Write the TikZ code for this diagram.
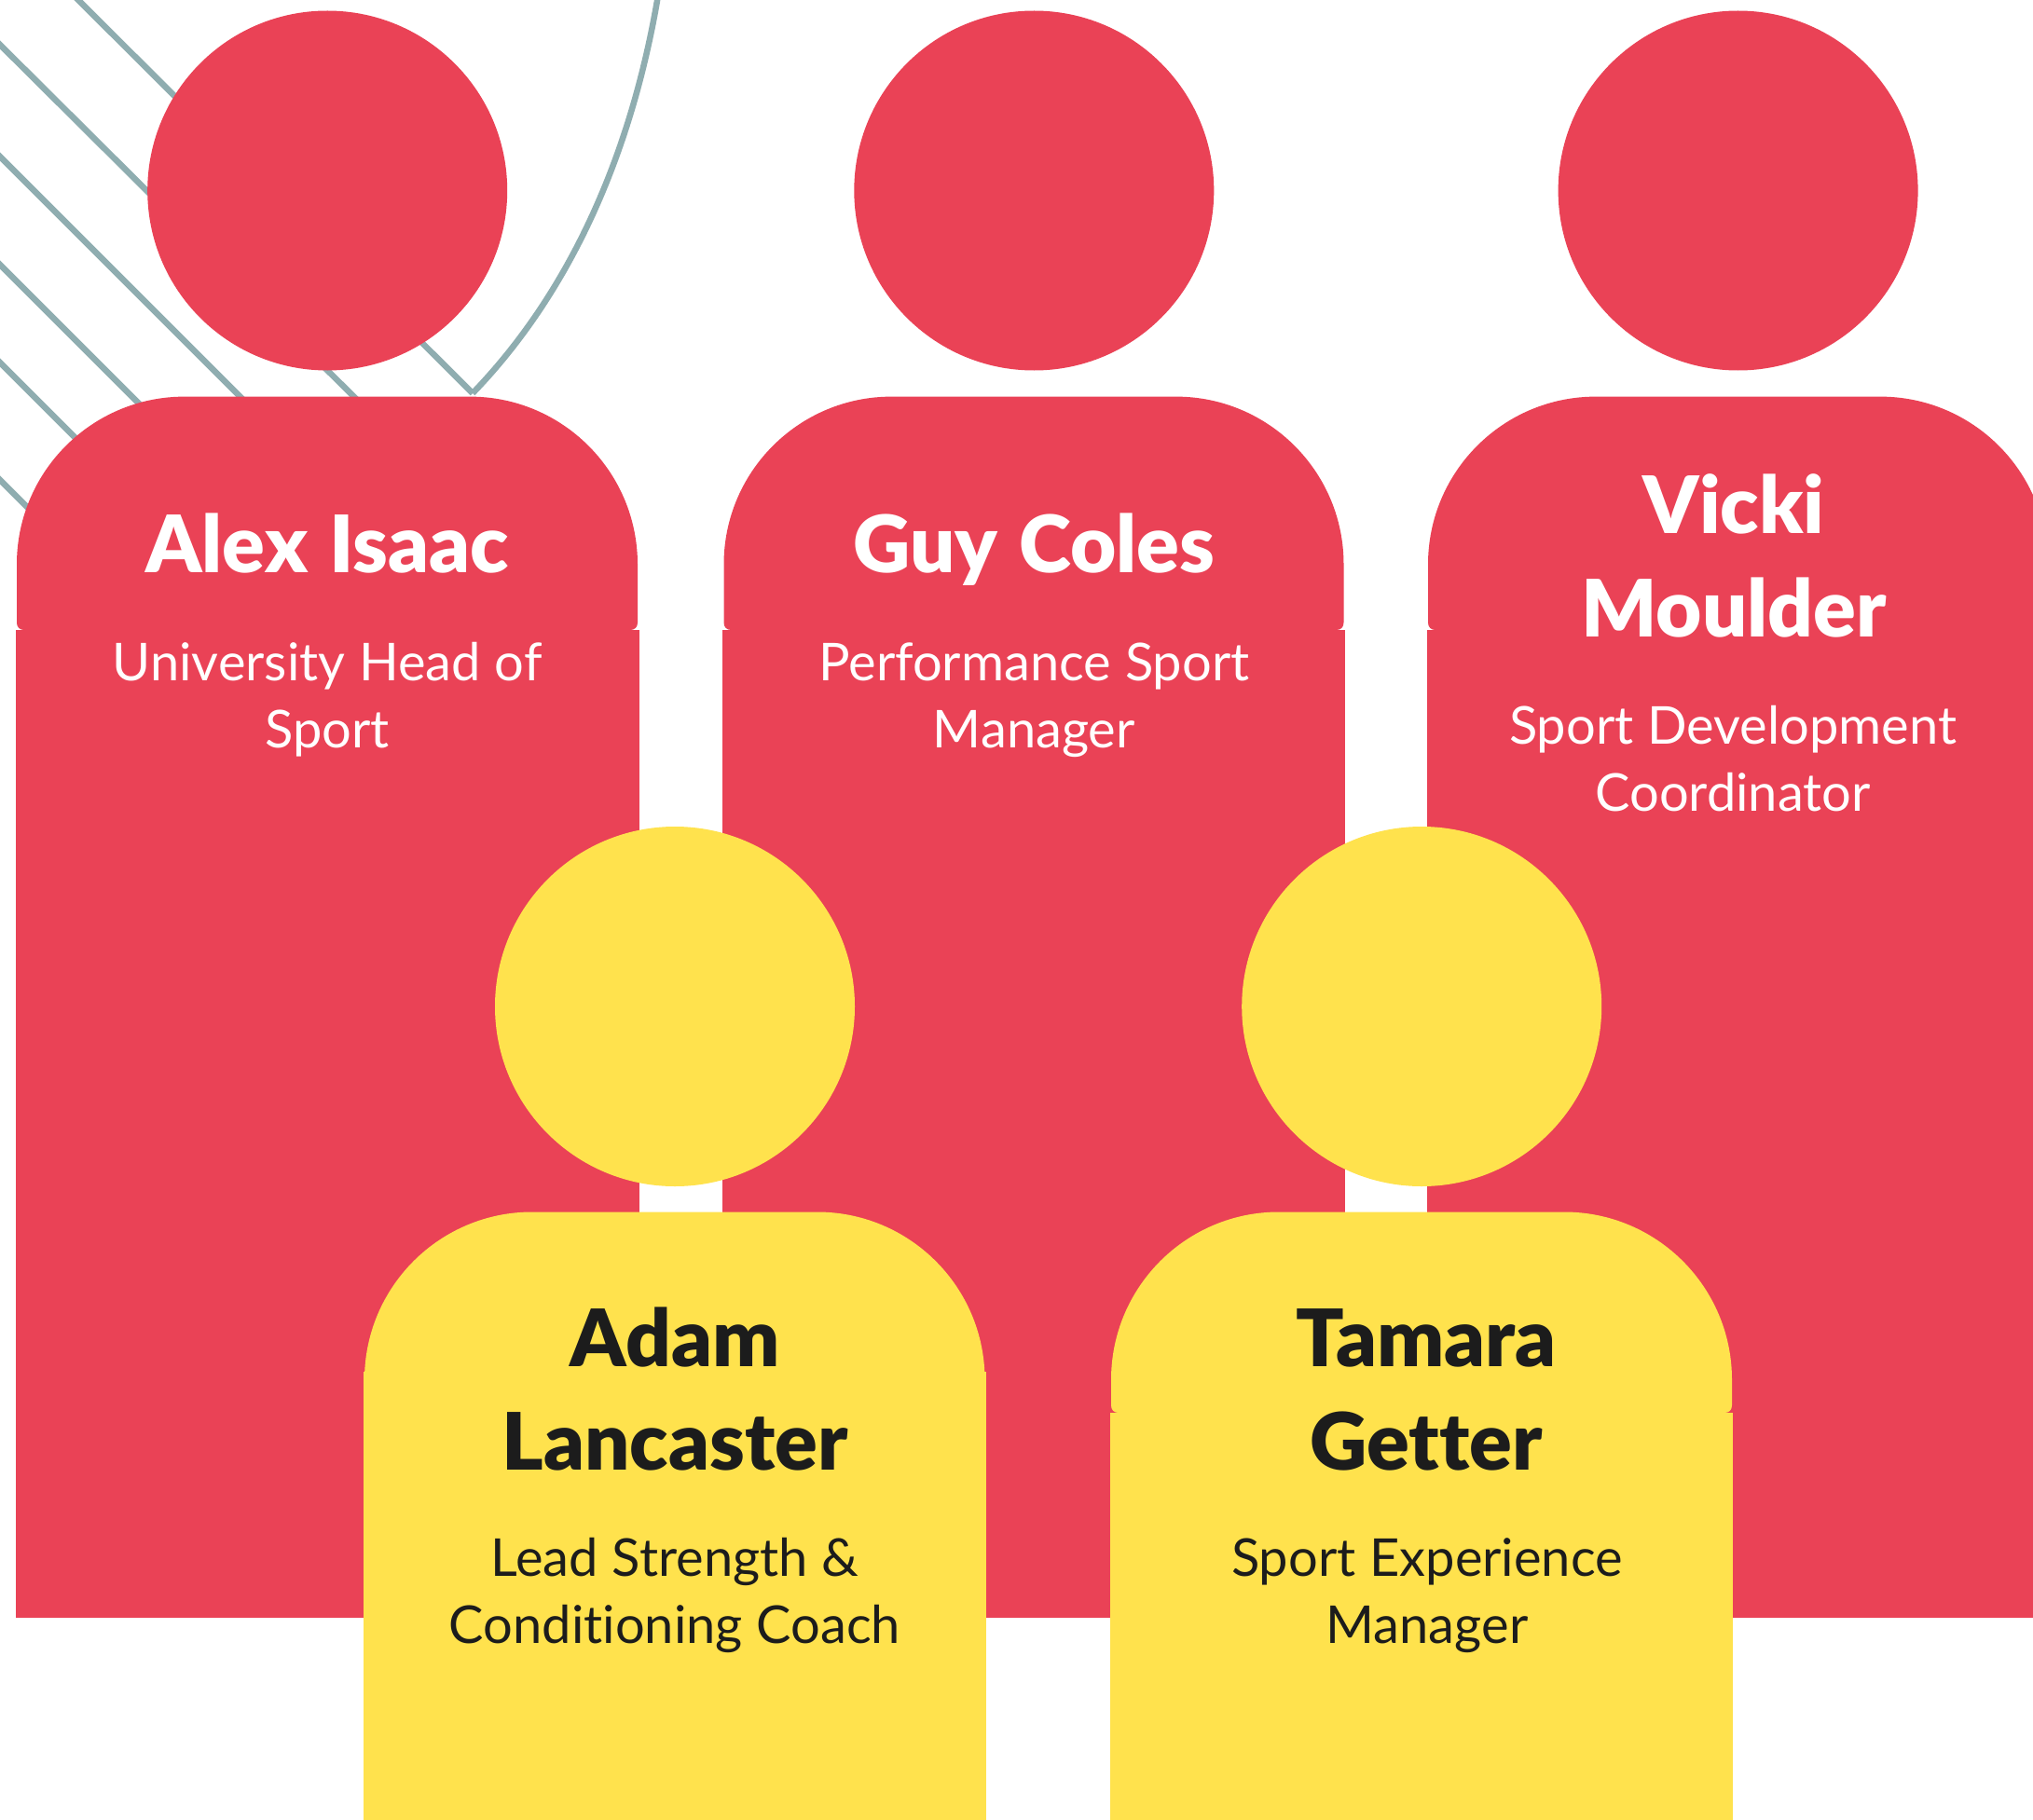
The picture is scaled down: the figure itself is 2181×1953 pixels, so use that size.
\documentclass[tikz,border=0pt]{standalone}
\usepackage{fontspec}
\setmainfont{Lato}[Ligatures=CommonOff,BoldFont={Lato Black}]
\definecolor{redc}{HTML}{EA4256}
\definecolor{yelc}{HTML}{FFE24D}
\definecolor{dark}{HTML}{1C1C1C}
\definecolor{linec}{HTML}{8FADB0}
% L R T J colour : rounded-top upper part of a body
\newcommand\bodyblock[5]{%
  \fill[#5] (#1+8,#4) .. controls (#1+3,#4) and (#1,#4-3) .. (#1,#4-8)
    -- (#1,#3+180) .. controls (#1,#3+80.6) and (#1+80.6,#3) .. (#1+180,#3)
    -- (#2-180,#3) .. controls (#2-80.6,#3) and (#2,#3+80.6) .. (#2,#3+180)
    -- (#2,#4-8) .. controls (#2,#4-3) and (#2-3,#4) .. (#2-8,#4) -- cycle;
}
\newcommand\namesp{\spaceskip 0.27em\relax}
\newcommand\rolesp{\spaceskip 0.265em\relax}
\tikzset{
  headdisc/.style={circle,minimum size=386pt,inner sep=0pt},
  bgline/.style={line width=6.5pt,draw=linec},
  personname/.style={anchor=base,inner sep=0pt,text width=640pt,align=center,font=\fontsize{85}{111}\selectfont\bfseries},
  personrole/.style={anchor=base,inner sep=0pt,text width=640pt,align=center,font=\fontsize{56}{72}\selectfont},
}
\begin{document}
\begin{tikzpicture}[x=1pt,y=-1pt]
\useasboundingbox (0,0) rectangle (2181,1953);
\clip (0,0) rectangle (2181,1953);
\fill[white] (0,0) rectangle (2181,1953);
% background lines
\draw[bgline] (81,-3) -- (507,422);
\draw[bgline] (-3,45) -- (385,431);
\draw[bgline] (-3,165) -- (270,438);
\draw[bgline] (-3,281) -- (160,444);
\draw[bgline] (-3,386) -- (100,489);
\draw[bgline] (-3,512) -- (40,555);
\draw[bgline] (507,422) .. controls (620,305) and (680,150) .. (706,-5);
% red bodies
\foreach \L/\R in {18/684,776.5/1441.5,1532/2197}{
  \bodyblock{\L}{\R}{425.6}{676}{redc}
  \fill[redc] (\L-1.5,676) rectangle (\R+1.5,1736);
}
\node[headdisc,fill=redc] (h1) at (351.2,204.5) {};
\node[headdisc,fill=redc] (h2) at (1109.3,204.5) {};
\node[headdisc,fill=redc] (h3) at (1864.6,204.5) {};
% yellow bodies
\bodyblock{391}{1056.5}{1300.5}{1482}{yelc}
\fill[yelc] (389.5,1472) rectangle (1058,1953);
\bodyblock{1192}{1858}{1300.5}{1516}{yelc}
\fill[yelc] (1190.5,1516) rectangle (1859,1953);
\node[headdisc,fill=yelc] (h4) at (724,1080) {};
\node[headdisc,fill=yelc] (h5) at (1525.2,1080) {};
% text
\node[personname,text=white] (n1) at (351.2,614) {\namesp Alex Isaac};
\node[personrole,text=white] (r1) at (351.2,730) {\rolesp University Head of\\Sport};
\node[personname,text=white] (n2) at (1109.3,614) {\namesp Guy Coles};
\node[personrole,text=white] (r2) at (1109.3,730) {\rolesp Performance Sport\\Manager};
\node[personname,text=white] (n3) at (1860,572) {Vicki\\Moulder};
\node[personrole,text=white] (r3) at (1859,798) {\rolesp Sport Development\\Coordinator};
\node[personname,text=dark] (n4) at (724,1466) {Adam\\Lancaster};
\node[personrole,text=dark] (r4) at (724,1691.5) {\rolesp Lead Strength \&\\Conditioning Coach};
\node[personname,text=dark] (n5) at (1530,1466) {Tamara\\Getter};
\node[personrole,text=dark] (r5) at (1531,1691.5) {\rolesp Sport Experience\\Manager};
\end{tikzpicture}
\end{document}
